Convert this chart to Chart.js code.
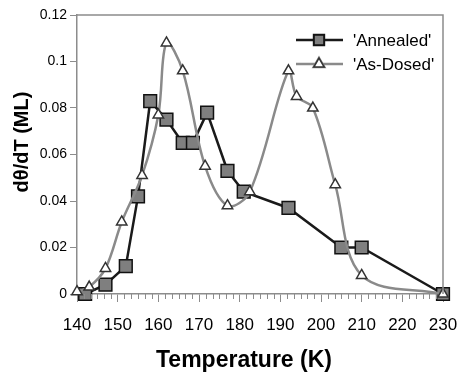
<!DOCTYPE html>
<html>
<head>
<meta charset="utf-8">
<script src="https://cdn.jsdelivr.net/npm/chart.js@4.4.0/dist/chart.umd.min.js"></script>
<style>
    html, body { margin: 0; padding: 0; background: #fff; }
    #wrap { width: 462px; height: 377px; position: relative; }
</style>
</head>
<body>
<div id="wrap"><canvas id="tpdChart"></canvas></div>
<script>
// desorption rate vs temperature
const annealedTemp = [142, 147, 152, 155, 158, 162, 166, 168.5, 172, 177, 181, 192, 205, 210, 230];
const annealedRate = [0, 0.004, 0.012, 0.042, 0.083, 0.075, 0.065, 0.065, 0.078, 0.053, 0.044, 0.037, 0.020, 0.020, 0];

const dosedTemp = [140, 143, 147, 151, 156, 160, 162, 166, 171.5, 177, 182.5, 192, 194, 198, 203.5, 210, 230];
const dosedRate = [0.001, 0.003, 0.011, 0.031, 0.051, 0.077, 0.108, 0.096, 0.055, 0.038, 0.044, 0.096, 0.085, 0.080, 0.047, 0.008, 0];

const seriesNames = ["'Annealed'", "'As-Dosed'"];
const xTitle = 'Temperature (K)';
const yTitle = 'dθ/dT (ML)';

const toPoints = (xs, ys) => xs.map((x, i) => ({ x: x, y: ys[i] }));

const FONT = '"Liberation Sans", Arial, sans-serif';
const AXIS_GRAY = '#8c8c8c';

// frame, minor ticks, titles and legend drawn on top of the chart area
const decorations = {
    id: 'decorations',
    afterDraw(chart) {
        const ctx = chart.ctx;
        const area = chart.chartArea;
        const xs = chart.scales.x;

        ctx.save();
        ctx.strokeStyle = AXIS_GRAY;
        ctx.lineWidth = 1.5;
        ctx.beginPath();
        ctx.moveTo(area.left, area.top);
        ctx.lineTo(area.right, area.top);
        ctx.lineTo(area.right, area.bottom);
        ctx.stroke();

        // minor ticks, five between each labelled step
        ctx.lineWidth = 1;
        ctx.beginPath();
        for (let t = 140; t < 230; t += 10) {
            for (let k = 1; k < 6; k++) {
                const px = Math.round(xs.getPixelForValue(t + k * 10 / 6)) + 0.5;
                ctx.moveTo(px, area.bottom);
                ctx.lineTo(px, area.bottom + 5);
            }
        }
        ctx.stroke();

        // axis titles
        ctx.fillStyle = '#000';
        ctx.font = 'bold 23px ' + FONT;
        ctx.textAlign = 'center';
        ctx.textBaseline = 'middle';
        ctx.fillText(xTitle, 244, 361);

        ctx.translate(22, 142);
        ctx.rotate(-Math.PI / 2);
        ctx.font = 'bold 20px ' + FONT;
        ctx.fillText(yTitle, 0, 0);
        ctx.restore();

        // legend
        ctx.save();
        const rows = [
            { y: 40, color: '#1a1a1a', ds: chart.data.datasets[0] },
            { y: 64, color: '#8a8a8a', ds: chart.data.datasets[1] }
        ];
        rows.forEach((r, i) => {
            ctx.strokeStyle = r.color;
            ctx.lineWidth = 2.5;
            ctx.beginPath();
            ctx.moveTo(296, r.y);
            ctx.lineTo(343, r.y);
            ctx.stroke();
            Chart.helpers.drawPoint(ctx, {
                pointStyle: r.ds.pointStyle,
                radius: i === 0 ? 7 : r.ds.pointRadius,
                borderWidth: r.ds.pointBorderWidth
            }, 319, r.y);
            ctx.fillStyle = r.ds.pointBackgroundColor;
            ctx.strokeStyle = r.ds.pointBorderColor;
            ctx.lineWidth = r.ds.pointBorderWidth;
            ctx.fill();
            ctx.stroke();
            ctx.fillStyle = '#000';
            ctx.font = '17px ' + FONT;
            ctx.textAlign = 'left';
            ctx.textBaseline = 'middle';
            ctx.fillText(seriesNames[i], 353, r.y + 1);
        });
        ctx.restore();
    }
};

new Chart(document.getElementById('tpdChart'), {
    type: 'line',
    data: {
        datasets: [
            {
                label: seriesNames[0],
                data: toPoints(annealedTemp, annealedRate),
                borderColor: '#1a1a1a',
                borderWidth: 2.5,
                tension: 0,
                pointStyle: 'rect',
                pointRadius: 9,
                pointBackgroundColor: '#7f7f7f',
                pointBorderColor: '#111',
                pointBorderWidth: 1.5,
                order: 2,
                clip: false
            },
            {
                label: seriesNames[1],
                data: toPoints(dosedTemp, dosedRate),
                borderColor: '#8a8a8a',
                borderWidth: 2.5,
                tension: 0.35,
                pointStyle: 'triangle',
                pointRadius: 6,
                pointBackgroundColor: '#fff',
                pointBorderColor: '#333',
                pointBorderWidth: 1.5,
                order: 1,
                clip: false
            }
        ]
    },
    options: {
        responsive: true,
        maintainAspectRatio: false,
        animation: false,
        layout: { padding: { top: 15, right: 19, left: 0, bottom: 0 } },
        plugins: {
            legend: { display: false },
            tooltip: { enabled: false }
        },
        scales: {
            x: {
                type: 'linear',
                min: 140,
                max: 230,
                ticks: {
                    stepSize: 10,
                    autoSkip: false,
                    maxRotation: 0,
                    minRotation: 0,
                    color: '#000',
                    padding: 13,
                    font: { family: FONT, size: 17 }
                },
                grid: {
                    drawOnChartArea: false,
                    tickLength: 8,
                    tickColor: AXIS_GRAY
                },
                border: { color: AXIS_GRAY, width: 1.5 },
                afterFit(scale) {
                    scale.height = 83;
                    scale.paddingLeft = 0;
                    scale.paddingRight = 0;
                }
            },
            y: {
                min: 0,
                max: 0.12,
                ticks: {
                    stepSize: 0.02,
                    color: '#000',
                    padding: 3,
                    font: { family: FONT, size: 14 },
                    callback: v => String(+v.toFixed(2))
                },
                grid: {
                    drawOnChartArea: false,
                    tickLength: 7,
                    tickColor: AXIS_GRAY
                },
                border: { color: AXIS_GRAY, width: 1.5 },
                afterFit(scale) {
                    scale.width = 77;
                    scale.paddingTop = 0;
                    scale.paddingBottom = 0;
                }
            }
        }
    },
    plugins: [decorations]
});
</script>
</body>
</html>
